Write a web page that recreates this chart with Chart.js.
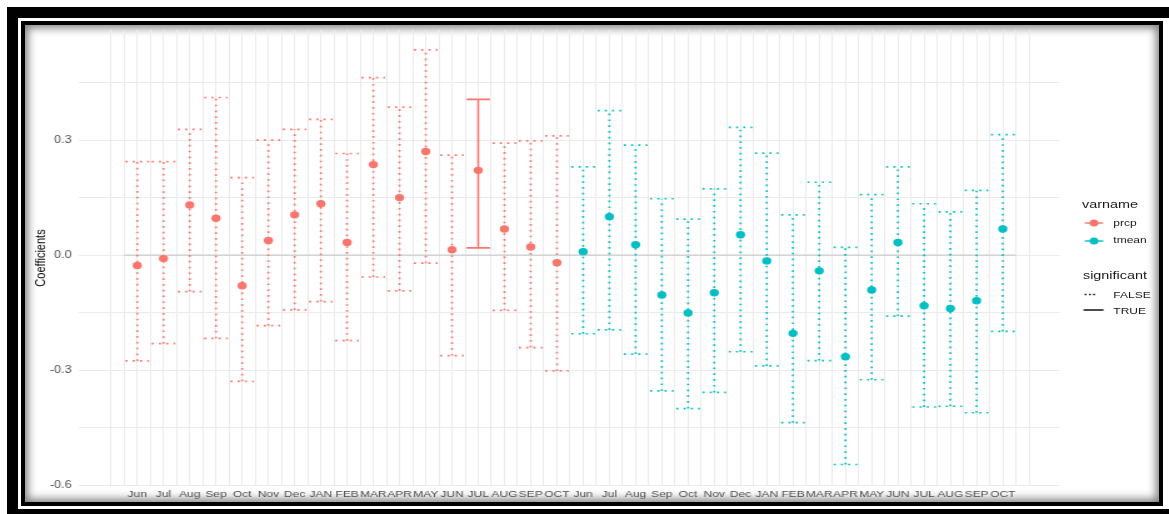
<!DOCTYPE html>
<html>
<head>
<meta charset="utf-8">
<script src="https://cdn.jsdelivr.net/npm/chart.js@4.4.0/dist/chart.umd.min.js"></script>
<style>
  html, body { margin: 0; padding: 0; background: #fff; overflow: hidden; width: 1169px; height: 514px; }
  #outer { position: absolute; left: 7px; top: 7px; width: 1173px; height: 513px; border: 11px solid #000; box-sizing: border-box; }
  #inner { position: absolute; left: 21px; top: 21px; width: 1142px; height: 485px; border: 4px solid #000; box-sizing: border-box;
           background: #fff; box-shadow: inset 0 0 9px 3px rgba(0,0,0,0.5); }
  #stage { position: absolute; left: 0; top: 0; width: 935px; height: 514px; transform-origin: 0 0; }
  #stage canvas { position: absolute; left: 0; top: 0; }
  .lg { position: absolute; white-space: nowrap; font-family: 'Liberation Sans', Arial, sans-serif; color: #1a1a1a; line-height: 1; }
</style>
</head>
<body>
<div id="outer"></div>
<div id="inner"></div>
<div id="stage">
  <canvas id="chart" width="935" height="514" style="width:935px;height:514px"></canvas>
  <div class="lg" style="left:865.4px;top:199.3px;font-size:11.5px">varname</div>
  <div class="lg" style="left:890.5px;top:217.6px;font-size:9.6px">prcp</div>
  <div class="lg" style="left:890.5px;top:235.2px;font-size:9.6px">tmean</div>
  <div class="lg" style="left:866.2px;top:269.6px;font-size:11.5px">significant</div>
  <div class="lg" style="left:890.5px;top:290.2px;font-size:9.6px">FALSE</div>
  <div class="lg" style="left:890.5px;top:305.6px;font-size:9.6px">TRUE</div>
</div>
<script>
// Month labels for each block of coefficients
const prcpMonths  = ['Jun','Jul','Aug','Sep','Oct','Nov','Dec','JAN','FEB','MAR','APR','MAY','JUN','JUL','AUG','SEP','OCT'];
const tmeanMonths = ['Jun','Jul','Aug','Sep','Oct','Nov','Dec','JAN','FEB','MAR','APR','MAY','JUN','JUL','AUG','SEP','OCT'];
const tickLabels  = prcpMonths.concat(tmeanMonths);

// Precipitation coefficients with confidence bounds
const prcpEstimate = [-0.027, -0.009, 0.131, 0.096, -0.080, 0.038, 0.105, 0.134, 0.033, 0.236, 0.150, 0.270, 0.014, 0.221, 0.068, 0.021, -0.020];
const prcpLower    = [-0.276, -0.231, -0.095, -0.217, -0.329, -0.184, -0.143, -0.121, -0.223, -0.057, -0.093, -0.021, -0.262, 0.019, -0.144, -0.241, -0.302];
const prcpUpper    = [0.244, 0.244, 0.328, 0.411, 0.202, 0.300, 0.328, 0.354, 0.265, 0.463, 0.386, 0.535, 0.261, 0.406, 0.292, 0.298, 0.311];
const prcpSignificant = [false, false, false, false, false, false, false, false, false, false, false, false, false, true, false, false, false];

// Mean temperature coefficients with confidence bounds
const tmeanEstimate = [0.009, 0.100, 0.027, -0.104, -0.151, -0.098, 0.053, -0.015, -0.204, -0.041, -0.265, -0.091, 0.033, -0.132, -0.139, -0.119, 0.068];
const tmeanLower    = [-0.205, -0.195, -0.258, -0.354, -0.400, -0.358, -0.252, -0.289, -0.437, -0.275, -0.546, -0.325, -0.159, -0.396, -0.394, -0.411, -0.199];
const tmeanUpper    = [0.230, 0.377, 0.287, 0.147, 0.094, 0.173, 0.333, 0.266, 0.105, 0.190, 0.020, 0.158, 0.230, 0.134, 0.113, 0.169, 0.314];
const tmeanSignificant = [false, false, false, false, false, false, false, false, false, false, false, false, false, false, false, false, false];

// Axis breaks
const yBreaks = [-0.6, -0.3, 0.0, 0.3];
const yMinorBreaks = [-0.45, -0.15, 0.15, 0.45];

const PRCP_COLOR = '#F8766D';
const TMEAN_COLOR = '#00BFC4';
const FONT = "'Liberation Sans', Arial, sans-serif";
const CAP = 0.45;              // half width of the error bar caps (x units)
const DOTS = [1.7, 4.1];       // dotted line pattern

// the rendered figure is widened horizontally
const STRETCH = 1169 / 935;
document.getElementById('stage').style.transform = 'scaleX(' + STRETCH + ')';

function errorBars(offset, lower, upper, sig, want) {
  const pts = [];
  lower.forEach((lo, i) => {
    if (sig[i] !== want) return;
    const x = offset + i + 1, hi = upper[i];
    pts.push({x: x, y: lo}, {x: x, y: hi}, {x: x, y: null});
    pts.push({x: x - CAP, y: hi}, {x: x + CAP, y: hi}, {x: x, y: null});
    pts.push({x: x - CAP, y: lo}, {x: x + CAP, y: lo}, {x: x, y: null});
  });
  return pts;
}
function estimates(offset, est) {
  return est.map((v, i) => ({x: offset + i + 1, y: v}));
}
function barSet(label, data, color, solid) {
  return {
    label, data, type: 'line', order: 2,
    borderColor: color, borderWidth: solid ? 1.6 : 1.7,
    borderDash: solid ? [] : DOTS, borderCapStyle: 'butt',
    pointRadius: 0, pointHoverRadius: 0, pointHitRadius: 0,
    fill: false, tension: 0, spanGaps: false
  };
}
function pointSet(label, data, color) {
  return {
    label, data, type: 'line', order: 1, showLine: false,
    pointRadius: 3.7, pointHoverRadius: 3.7, pointBorderWidth: 0,
    pointBackgroundColor: color, backgroundColor: color, borderColor: color
  };
}

const nP = prcpMonths.length;
const nAll = tickLabels.length;

// legend keys drawn next to the legend labels
const legendKeys = {
  id: 'legendKeys',
  afterDraw(chart) {
    const ctx = chart.ctx;
    ctx.save();
    [[PRCP_COLOR, 223], [TMEAN_COLOR, 241]].forEach(([c, y]) => {
      ctx.setLineDash([]);
      ctx.strokeStyle = c; ctx.lineWidth = 1.4;
      ctx.beginPath(); ctx.moveTo(867.6, y); ctx.lineTo(882.4, y); ctx.stroke();
      ctx.fillStyle = c;
      ctx.beginPath(); ctx.arc(875, y, 3.5, 0, Math.PI * 2); ctx.fill();
    });
    ctx.strokeStyle = '#000';
    ctx.lineWidth = 1.4;
    ctx.setLineDash([1.4, 2.0]);
    ctx.beginPath(); ctx.moveTo(867.6, 294.5); ctx.lineTo(877.8, 294.5); ctx.stroke();
    ctx.setLineDash([]);
    ctx.lineWidth = 1.4;
    ctx.beginPath(); ctx.moveTo(866.6, 310); ctx.lineTo(882.6, 310); ctx.stroke();
    ctx.restore();
  }
};

new Chart(document.getElementById('chart'), {
  type: 'line',
  data: {
    datasets: [
      {
        label: 'zero', type: 'line', order: 3,
        data: [{x: 0.5, y: 0}, {x: nAll + 0.5, y: 0}],
        borderColor: '#cdcdcd', borderWidth: 1.2, pointRadius: 0, fill: false
      },
      barSet('prcp FALSE', errorBars(0, prcpLower, prcpUpper, prcpSignificant, false), PRCP_COLOR, false),
      barSet('prcp TRUE',  errorBars(0, prcpLower, prcpUpper, prcpSignificant, true),  PRCP_COLOR, true),
      barSet('tmean FALSE', errorBars(nP, tmeanLower, tmeanUpper, tmeanSignificant, false), TMEAN_COLOR, false),
      barSet('tmean TRUE',  errorBars(nP, tmeanLower, tmeanUpper, tmeanSignificant, true),  TMEAN_COLOR, true),
      pointSet('prcp', estimates(0, prcpEstimate), PRCP_COLOR),
      pointSet('tmean', estimates(nP, tmeanEstimate), TMEAN_COLOR)
    ]
  },
  options: {
    responsive: false,
    animation: false,
    devicePixelRatio: 1,
    events: [],
    layout: { padding: { left: 0, right: 87.2, top: 30, bottom: 8 } },
    plugins: { legend: { display: false }, tooltip: { enabled: false } },
    scales: {
      x: {
        type: 'linear', min: -1.22, max: nAll + 2.18,
        afterBuildTicks(scale) {
          const t = [];
          for (let v = 0; v <= nAll + 1; v += 0.5) t.push({ value: v });
          scale.ticks = t;
        },
        afterFit(scale) { scale.height = 20; },
        grid: { color: '#ebebeb', lineWidth: 1, drawTicks: false },
        border: { display: false },
        ticks: {
          autoSkip: false, maxRotation: 0, minRotation: 0, padding: 3,
          color: '#4d4d4d', font: { family: FONT, size: 9.6 },
          callback: (v) => (Number.isInteger(v) && v >= 1 && v <= nAll) ? tickLabels[v - 1] : ''
        }
      },
      y: {
        type: 'linear', min: -0.602, max: 0.587,
        afterBuildTicks(scale) {
          scale.ticks = yBreaks.concat(yMinorBreaks).sort((a, b) => a - b).map(v => ({ value: v }));
        },
        afterFit(scale) { scale.width = 63.2; },
        grid: { color: '#ebebeb', lineWidth: 1, drawTicks: false },
        border: { display: false },
        ticks: {
          padding: 6, color: '#4d4d4d', font: { family: FONT, size: 10 },
          callback: (v) => yBreaks.some(b => Math.abs(b - v) < 1e-9) ? v.toFixed(1) : ''
        },
        title: {
          display: true, text: 'Coefficients', color: '#000',
          font: { family: FONT, size: 11 }, padding: { top: 26, bottom: 0 }
        }
      }
    }
  },
  plugins: [legendKeys]
});
</script>
</body>
</html>
